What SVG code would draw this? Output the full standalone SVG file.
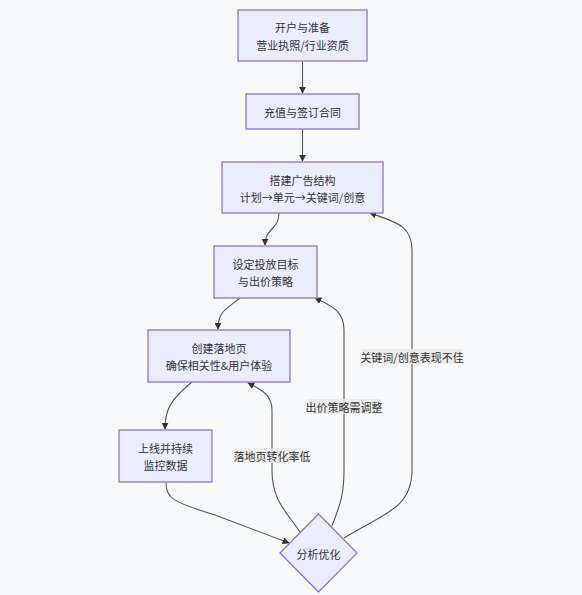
<svg xmlns="http://www.w3.org/2000/svg" width="582" height="595" viewBox="0 0 582 595">
<style>
.n rect,.n polygon{fill:#ECECFF;stroke:#9370DB;stroke-width:1.3}
text{font-family:"Noto Sans CJK SC","Liberation Sans",sans-serif;font-size:11px;fill:#333;text-anchor:middle;dominant-baseline:central}
.e{fill:none;stroke:#555;stroke-width:1.1}
.lb{fill:#e8e8e8;opacity:0.8}
</style>
<defs>
<marker id="ah" viewBox="0 0 10 10" refX="9" refY="5" markerWidth="7" markerHeight="7" orient="auto" markerUnits="userSpaceOnUse">
<path d="M0,0 L10,5 L0,10 z" fill="#333"/>
</marker>
</defs>
<rect width="582" height="595" fill="#f8f9fa"/>
<g id="edges">
<path class="e" d="M302.5,61 L302.5,93" marker-end="url(#ah)"/>
<path class="e" d="M302.5,129 L302.5,161" marker-end="url(#ah)"/>
<path class="e" d="M279,213 C279,230 265,228 265,245" marker-end="url(#ah)"/>
<path class="e" d="M240,298 C225,310 218,312 218,329" marker-end="url(#ah)"/>
<path class="e" d="M192,382 C170,400 165,410 165,429" marker-end="url(#ah)"/>
<path class="e" d="M166,482 C166,498 172,502 215,515 L289,543" marker-end="url(#ah)"/>
<path class="e" d="M300,532 C285,510 272,500 272,470 L272,410 C272,395 262,390 248,383" marker-end="url(#ah)"/>
<path class="e" d="M332,526 C340,505 344,495 344,470 L344,330 C344,310 330,305 315,298" marker-end="url(#ah)"/>
<path class="e" d="M344,538 C380,515 412,510 412,470 L412,250 C412,225 395,222 370,213" marker-end="url(#ah)"/>
</g>
<g id="labels">
<rect class="lb" x="235" y="448" width="74" height="15"/>
<text x="272" y="455.5">落地页转化率低</text>
<rect class="lb" x="307" y="399" width="74" height="15"/>
<text x="344" y="406.5">出价策略需调整</text>
<rect class="lb" x="362" y="349" width="100" height="15"/>
<text x="412" y="356.5">关键词/创意表现不佳</text>
</g>
<g id="n1" class="n"><rect x="238" y="10" width="129" height="51"/><text x="302.5" y="26.5">开户与准备</text><text x="302.5" y="44.5">营业执照/行业资质</text></g>
<g id="n2" class="n"><rect x="246" y="94" width="113" height="35"/><text x="302.5" y="111.5">充值与签订合同</text></g>
<g id="n3" class="n"><rect x="222" y="162" width="161" height="51"/><text x="302.5" y="179.5">搭建广告结构</text><text x="302.5" y="197">计划→单元→关键词/创意</text></g>
<g id="n4" class="n"><rect x="214" y="246" width="103" height="52"/><text x="265.5" y="263.5">设定投放目标</text><text x="265.5" y="281">与出价策略</text></g>
<g id="n5" class="n"><rect x="148" y="330" width="142" height="52"/><text x="219" y="347.5">创建落地页</text><text x="219" y="365">确保相关性&amp;用户体验</text></g>
<g id="n6" class="n"><rect x="119" y="430" width="93" height="52"/><text x="165.5" y="447.5">上线并持续</text><text x="165.5" y="465">监控数据</text></g>
<g id="n7" class="n"><polygon points="318.5,514 357,553 318.5,592 280,553"/><text x="318.5" y="553.5">分析优化</text></g>
</svg>
